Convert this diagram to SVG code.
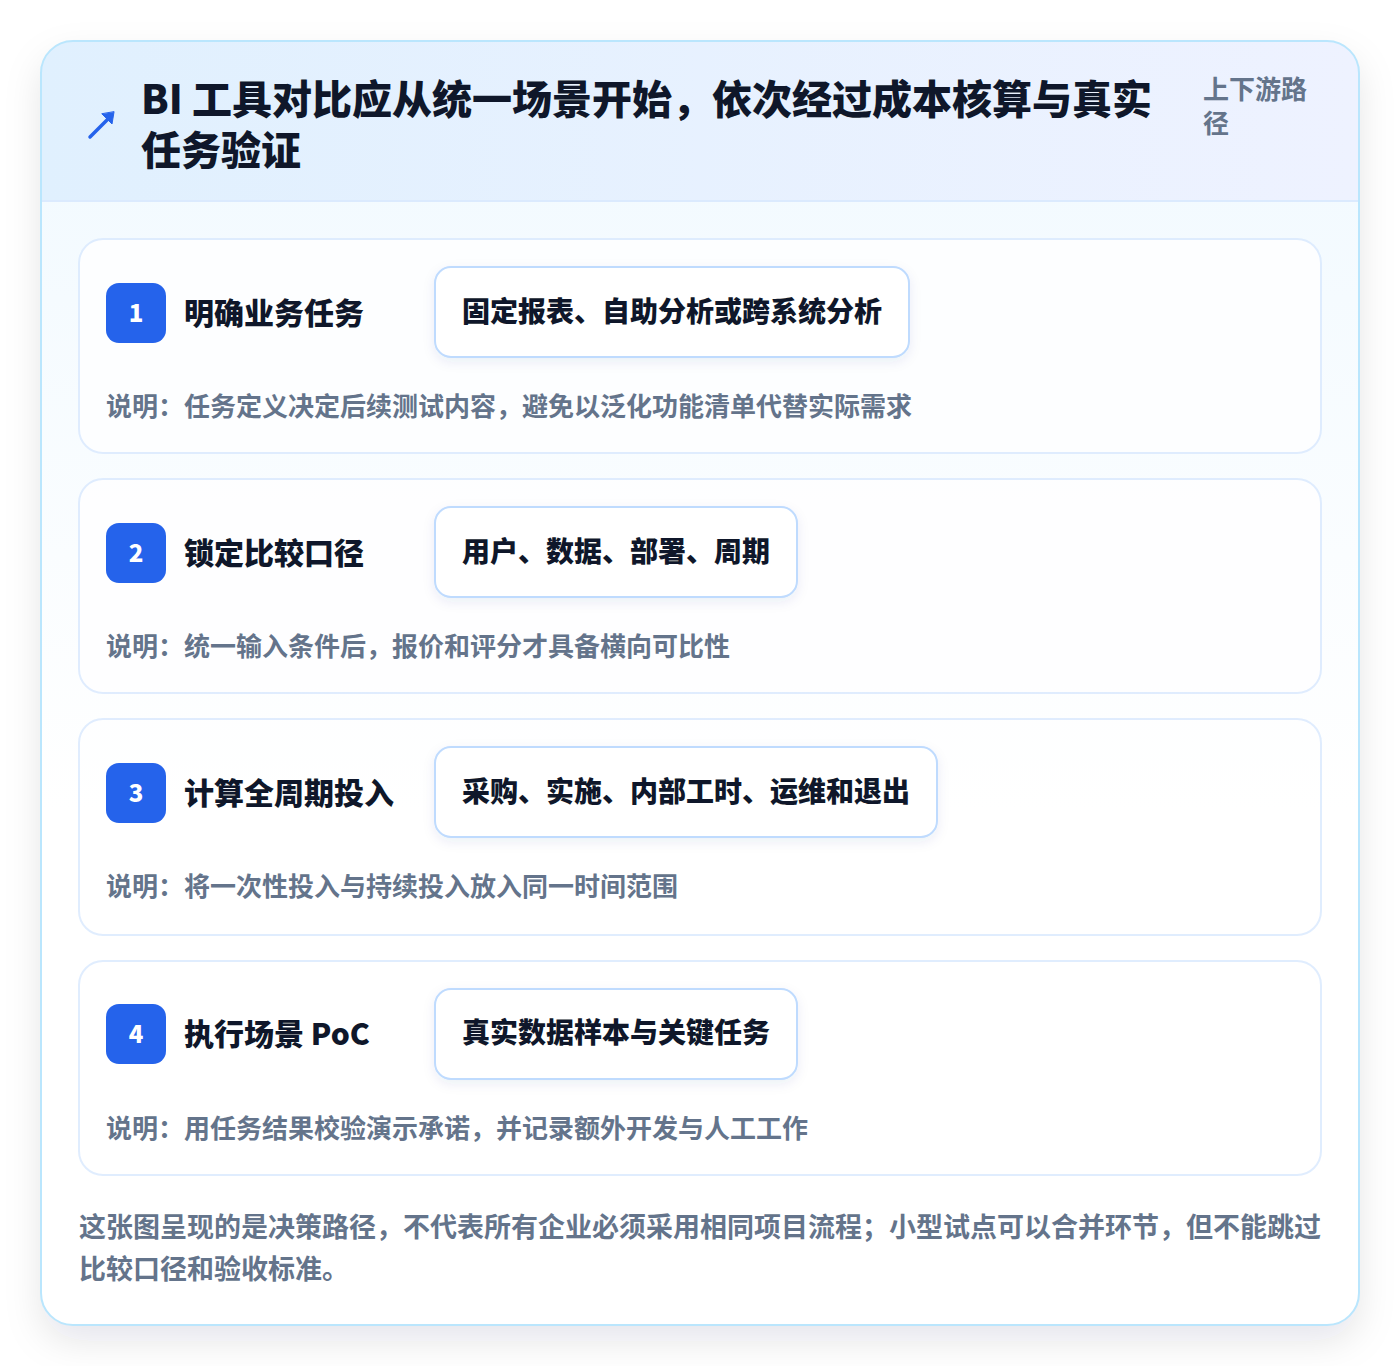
<svg xmlns="http://www.w3.org/2000/svg" width="1400" height="1366" viewBox="0 0 1400 1366">
<defs>
<linearGradient id="hdr" x1="0" y1="0" x2="1" y2="0"><stop offset="0" stop-color="#e0f0fe"/><stop offset="1" stop-color="#eef2ff"/></linearGradient>
<linearGradient id="body" x1="0" y1="0" x2="0" y2="1"><stop offset="0" stop-color="#f0f9ff"/><stop offset="0.6" stop-color="#ffffff"/></linearGradient>
<clipPath id="cardclip"><rect x="41" y="41" width="1318" height="1284" rx="32"/></clipPath>
<filter id="shadow" x="-10%" y="-10%" width="120%" height="120%"><feDropShadow dx="0" dy="16" stdDeviation="18" flood-color="#0f172a" flood-opacity="0.10"/></filter>
<filter id="pshadow" x="-10%" y="-20%" width="120%" height="150%"><feDropShadow dx="0" dy="4" stdDeviation="6" flood-color="#1e3a8a" flood-opacity="0.08"/></filter>
</defs>
<style>
text{font-family:"Noto Sans CJK SC","Noto Sans",sans-serif;font-weight:700}
.title{font-size:40px;fill:#0f172a;font-weight:900}
.sub{font-size:26px;fill:#64748b}
.step{fill:#ffffff;stroke:#dbeafe;stroke-width:2;opacity:0.85}
.badge{fill:#2563eb}
.num{font-size:24px;fill:#ffffff;text-anchor:middle;font-weight:900}
.stitle{font-size:30px;fill:#0f172a;font-weight:900}
.pill{fill:#ffffff;stroke:#bfdbfe;stroke-width:2}
.ptext{font-size:28px;fill:#0f172a;font-weight:900}
.desc{font-size:26px;fill:#64748b}
.foot{font-size:27px;fill:#64748b}
</style>
<rect width="1400" height="1366" fill="#ffffff"/>
<g id="card">
<rect x="41" y="41" width="1318" height="1284" rx="32" fill="#ffffff" filter="url(#shadow)"/>
<g clip-path="url(#cardclip)">
<rect x="41" y="41" width="1318" height="1284" fill="url(#body)"/>
<rect x="41" y="41" width="1318" height="160" fill="url(#hdr)"/>
<line x1="41" y1="201" x2="1359" y2="201" stroke="#dbeafe" stroke-width="2"/>
</g>
<rect x="41" y="41" width="1318" height="1284" rx="32" fill="none" stroke="#bae6fd" stroke-width="2"/>
</g>
<g id="header">
<g stroke="#2563eb" stroke-width="3.5" fill="#2563eb" stroke-linecap="round">
<line x1="90" y1="137" x2="110" y2="117"/>
<polygon points="114,112 112,124 102,114" stroke-width="1"/>
</g>
<text class="title" x="141" y="114">BI 工具对比应从统一场景开始，依次经过成本核算与真实</text>
<text class="title" x="141" y="165">任务验证</text>
<text class="sub" x="1203" y="99">上下游路</text>
<text class="sub" x="1203" y="133">径</text>
</g>
<g id="step1">
<rect class="step" x="79" y="239" width="1242" height="214" rx="24"/>
<rect class="badge" x="106" y="283" width="60" height="60" rx="13"/>
<text class="num" x="136" y="322">1</text>
<text class="stitle" x="184" y="324">明确业务任务</text>
<rect class="pill" x="435" y="267" width="474" height="90" rx="16" filter="url(#pshadow)"/>
<text class="ptext" x="462" y="322">固定报表、自助分析或跨系统分析</text>
<text class="desc" x="106" y="416">说明：任务定义决定后续测试内容，避免以泛化功能清单代替实际需求</text>
</g>
<g id="step2">
<rect class="step" x="79" y="479" width="1242" height="214" rx="24"/>
<rect class="badge" x="106" y="523" width="60" height="60" rx="13"/>
<text class="num" x="136" y="562">2</text>
<text class="stitle" x="184" y="564">锁定比较口径</text>
<rect class="pill" x="435" y="507" width="362" height="90" rx="16" filter="url(#pshadow)"/>
<text class="ptext" x="462" y="562">用户、数据、部署、周期</text>
<text class="desc" x="106" y="656">说明：统一输入条件后，报价和评分才具备横向可比性</text>
</g>
<g id="step3">
<rect class="step" x="79" y="719" width="1242" height="216" rx="24"/>
<rect class="badge" x="106" y="763" width="60" height="60" rx="13"/>
<text class="num" x="136" y="802">3</text>
<text class="stitle" x="184" y="804">计算全周期投入</text>
<rect class="pill" x="435" y="747" width="502" height="90" rx="16" filter="url(#pshadow)"/>
<text class="ptext" x="462" y="802">采购、实施、内部工时、运维和退出</text>
<text class="desc" x="106" y="896">说明：将一次性投入与持续投入放入同一时间范围</text>
</g>
<g id="step4">
<rect class="step" x="79" y="961" width="1242" height="214" rx="24"/>
<rect class="badge" x="106" y="1004" width="60" height="60" rx="13"/>
<text class="num" x="136" y="1043">4</text>
<text class="stitle" x="184" y="1045">执行场景 PoC</text>
<rect class="pill" x="435" y="989" width="362" height="90" rx="16" filter="url(#pshadow)"/>
<text class="ptext" x="462" y="1043">真实数据样本与关键任务</text>
<text class="desc" x="106" y="1138">说明：用任务结果校验演示承诺，并记录额外开发与人工工作</text>
</g>
<g id="footer">
<text class="foot" x="79" y="1237">这张图呈现的是决策路径，不代表所有企业必须采用相同项目流程；小型试点可以合并环节，但不能跳过</text>
<text class="foot" x="79" y="1279">比较口径和验收标准。</text>
</g>
<g id="connectors"/>
</svg>
